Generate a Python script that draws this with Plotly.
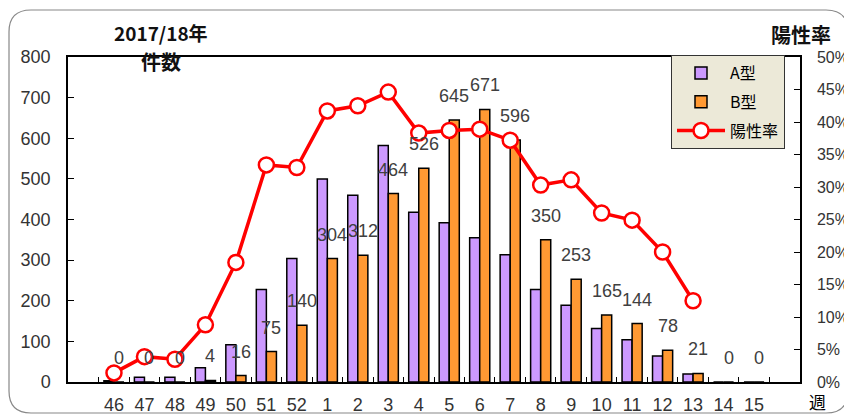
import plotly.graph_objects as go

weeks = ["46", "47", "48", "49", "50", "51", "52", "1", "2", "3", "4", "5", "6", "7", "8", "9", "10", "11", "12", "13", "14", "15"]
type_a = [3, 12, 12, 35, 92, 228, 304, 500, 460, 582, 418, 392, 355, 313, 228, 189, 132, 104, 64, 20, 0, 0]
type_b = [0, 0, 0, 4, 16, 75, 140, 304, 312, 464, 526, 645, 671, 596, 350, 253, 165, 144, 78, 21, 0, 0]
pos_rate = [1.4, 3.9, 3.5, 8.8, 18.4, 33.4, 33.0, 41.7, 42.5, 44.6, 38.3, 38.7, 38.9, 37.2, 30.3, 31.1, 26.0, 24.9, 20.0, 12.5, None, None]
y_ticks = [0, 100, 200, 300, 400, 500, 600, 700, 800]
y2_ticks = [0, 5, 10, 15, 20, 25, 30, 35, 40, 45, 50]
y2_labels = [f"{v}%" for v in y2_ticks]

# page has an 8px body margin; size the figure to fit the 852x416 window
OFF = 8
W, H = 852 - OFF, 416 - OFF
L, R, T, B = 60, 52, 49, 34
pw, ph = W - L - R, H - T - B

def px(x):  # page pixel -> paper
    return (x - OFF - L) / pw

def py(y):
    return (H - B - (y - OFF)) / ph

font_main = "Liberation Sans, Arial, sans-serif"
font_cjk = "Noto Sans CJK JP, sans-serif"

fig = go.Figure()
fig.add_trace(go.Bar(
    x=weeks, y=type_a, name="A型", legendgroup="a",
    marker=dict(color="#CC99FF", line=dict(color="#000000", width=1.5)),
))
fig.add_trace(go.Bar(
    x=weeks, y=type_b, name="B型", legendgroup="b",
    marker=dict(color="#FF9933", line=dict(color="#000000", width=1.5)),
))
fig.add_trace(go.Scatter(
    x=weeks, y=pos_rate, name="陽性率", yaxis="y2", legendgroup="c",
    mode="lines+markers",
    line=dict(color="#FF0000", width=3.5),
    marker=dict(size=15, color="#FFFFFF", line=dict(color="#FF0000", width=2.5)),
    connectgaps=False,
))

annotations = []
for i, v in enumerate(type_b):
    annotations.append(dict(
        x=i, y=v, xref="x", yref="y", text=str(v), showarrow=False,
        xshift=5, yshift=24, yanchor="middle",
        font=dict(family=font_main, size=18, color="#404040"),
    ))

annotations += [
    dict(x=px(161), y=py(33), xref="paper", yref="paper", text="<b>2017/18年</b>", showarrow=False,
         font=dict(family=font_cjk, size=19, color="#111111"), xanchor="center", yanchor="middle"),
    dict(x=px(161), y=py(61), xref="paper", yref="paper", text="<b>件数</b>", showarrow=False,
         font=dict(family=font_cjk, size=20, color="#111111"), xanchor="center", yanchor="middle"),
    dict(x=px(801), y=py(35), xref="paper", yref="paper", text="<b>陽性率</b>", showarrow=False,
         font=dict(family=font_cjk, size=20, color="#111111"), xanchor="center", yanchor="middle"),
    dict(x=px(817), y=py(401), xref="paper", yref="paper", text="週", showarrow=False,
         font=dict(family=font_cjk, size=17, color="#000000"), xanchor="center", yanchor="middle"),
]

# rounded outer frame
x0, x1, y0, y1 = px(9), px(848), py(10), py(413)
rx, ry = 22 / pw, 22 / ph
path = (f"M {x0+rx},{y0} L {x1-rx},{y0} Q {x1},{y0} {x1},{y0-ry} "
        f"L {x1},{y1+ry} Q {x1},{y1} {x1-rx},{y1} L {x0+rx},{y1} "
        f"Q {x0},{y1} {x0},{y1+ry} L {x0},{y0-ry} Q {x0},{y0} {x0+rx},{y0} Z")

fig.update_layout(
    width=W, height=H,
    margin=dict(l=L, r=R, t=T, b=B, autoexpand=False),
    paper_bgcolor="#FFFFFF", plot_bgcolor="#FFFFFF",
    barmode="group", bargap=0.34, bargroupgap=0,
    showlegend=True,
    legend=dict(
        x=px(671), y=py(55), xanchor="left", yanchor="top",
        bgcolor="#ECE9D8", bordercolor="#333333", borderwidth=1,
        font=dict(family=font_cjk, size=16, color="#000000"),
        itemwidth=48, traceorder="grouped", tracegroupgap=5,
    ),
    xaxis=dict(
        type="category", showline=True, linecolor="#000000", linewidth=1.5,
        ticks="inside", tickson="boundaries", ticklen=5, tickcolor="#000000",
        tickfont=dict(family=font_main, size=18, color="#333333"),
        tickangle=0, automargin=False, ticklabelstandoff=6,
        showgrid=False, zeroline=False, mirror=True,
    ),
    yaxis=dict(
        range=[0, 800], tickvals=y_ticks, showline=True, linecolor="#000000", linewidth=1.5,
        ticks="inside", ticklen=6, tickcolor="#000000",
        tickfont=dict(family=font_main, size=18, color="#333333"),
        ticklabelstandoff=12, automargin=False,
        showgrid=False, zeroline=False, mirror=False,
    ),
    yaxis2=dict(
        range=[0, 50], tickvals=y2_ticks, ticktext=y2_labels, overlaying="y", side="right",
        showline=True, linecolor="#000000", linewidth=1.5,
        ticks="inside", ticklen=6, tickcolor="#000000",
        tickfont=dict(family=font_main, size=16, color="#333333"),
        ticklabelstandoff=12, automargin=False,
        showgrid=False, zeroline=False,
    ),
    annotations=annotations,
    shapes=[dict(type="path", path=path, xref="paper", yref="paper",
                 line=dict(color="#888888", width=1.2), fillcolor="rgba(0,0,0,0)", layer="below")],
)

fig.write_html("out.html")
